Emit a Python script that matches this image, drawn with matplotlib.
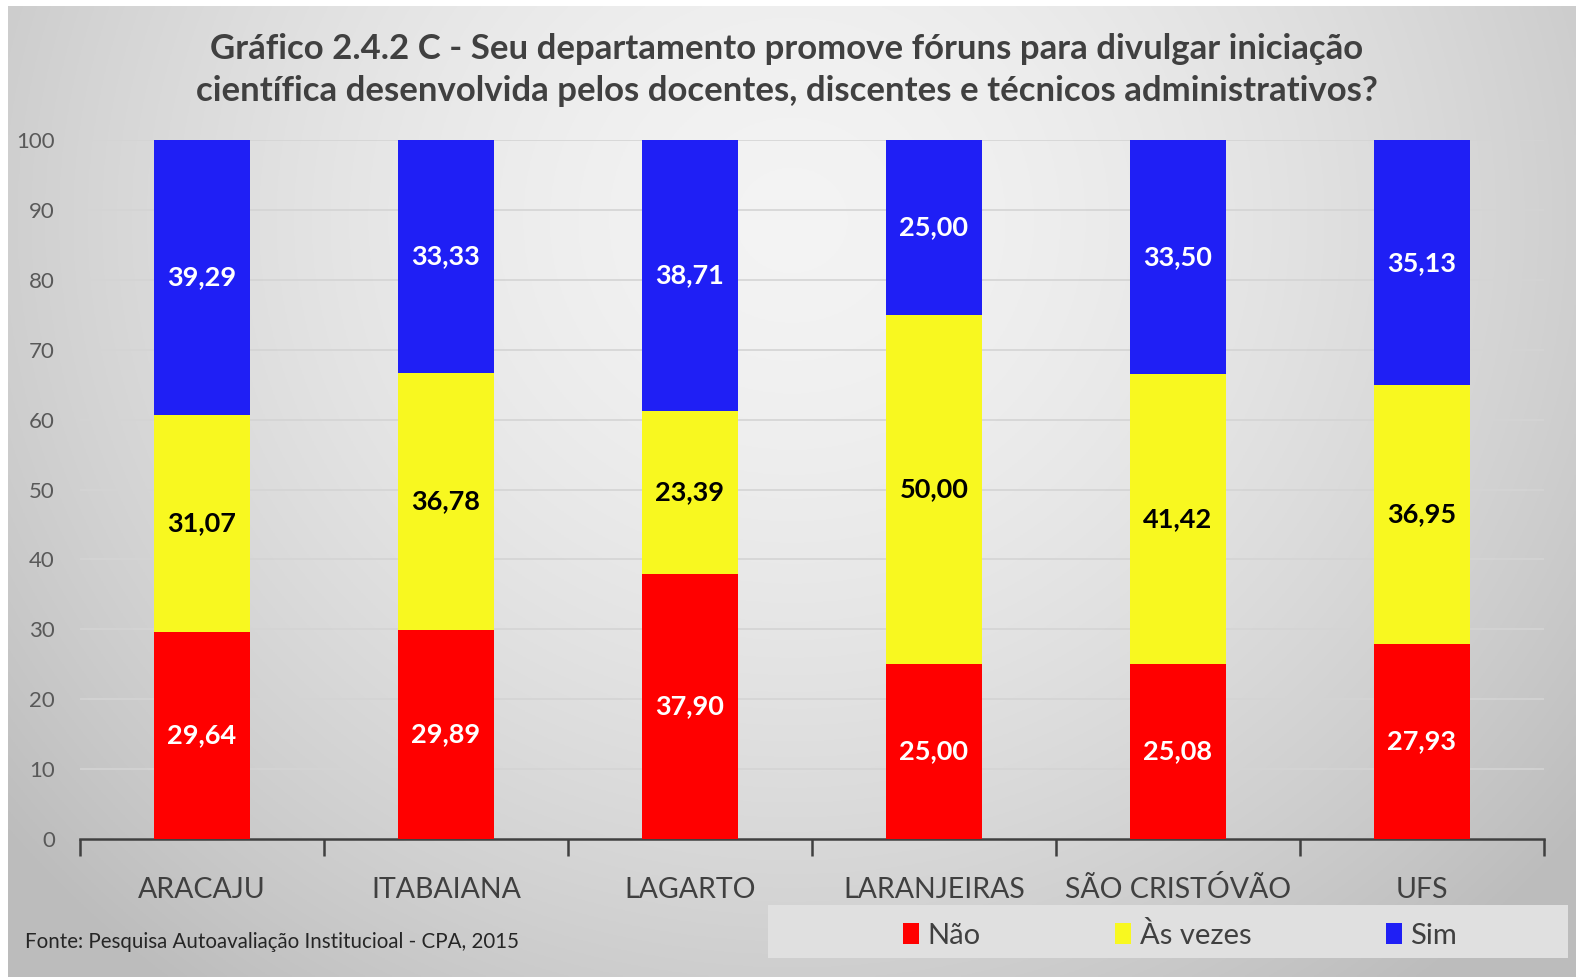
import numpy as np
import matplotlib.pyplot as plt
import matplotlib as mpl
from matplotlib.patches import Rectangle

mpl.rcParams.update({"font.family": ["Lato", "DejaVu Sans"]})

campi = ["ARACAJU", "ITABAIANA", "LAGARTO", "LARANJEIRAS", "SÃO CRISTÓVÃO", "UFS"]
nao = [29.64, 29.89, 37.90, 25.00, 25.08, 27.93]
as_vezes = [31.07, 36.78, 23.39, 50.00, 41.42, 36.95]
sim = [39.29, 33.33, 38.71, 25.00, 33.50, 35.13]

series = [("Não", nao, "#ff0000", "white"),
          ("Às vezes", as_vezes, "#f8f820", "black"),
          ("Sim", sim, "#1f1ff5", "white")]

W, H = 1576, 977
fig = plt.figure(figsize=(W / 100, H / 100), dpi=100, facecolor="white")

# radial grey background (Excel style)
bg = fig.add_axes([8 / W, 0, 1 - 8 / W, 1 - 6 / H], zorder=-10)
yy, xx = np.mgrid[0:1:400j, 0:1:640j]
r = np.sqrt(((xx - 0.5) / 0.62) ** 2 + ((yy - 0.22) / 0.95) ** 2)
shade = np.clip(0.955 - 0.20 * r ** 1.6, 0.74, 0.96)
bg.imshow(np.dstack([shade] * 3), aspect="auto", extent=(0, 1, 1, 0))
bg.set_axis_off()

ax = fig.add_axes([80 / W, 138 / H, 1464 / W, 699 / H])
ax.patch.set_alpha(0)

x = np.arange(len(campi))
bottom = np.zeros(len(campi))
for name, vals, color, tcol in series:
    vals = np.array(vals)
    ax.bar(x, vals, width=0.395, bottom=bottom, color=color, label=name,
           zorder=3)
    for xi, b, v in zip(x, bottom, vals):
        ax.text(xi, b + v / 2, f"{v:.2f}".replace(".", ","), ha="center",
                va="center", color=tcol, fontsize=19.5, fontweight="bold",
                zorder=4)
    bottom += vals

ax.set_xlim(-0.5, len(campi) - 0.5)
ax.set_ylim(0, 100)
ax.set_yticks(range(0, 101, 10))
ax.yaxis.grid(True, color="#d4d4d4", lw=1.2, zorder=0)
ax.tick_params(axis="y", length=0, pad=18, labelsize=16, labelcolor="#595959")
for s in ["top", "right", "left"]:
    ax.spines[s].set_visible(False)
ax.spines["bottom"].set_color("#404040")
ax.spines["bottom"].set_linewidth(1.8)

ax.set_xticks(x)
ax.set_xticklabels(campi, fontsize=20.5, color="#404040")
ax.tick_params(axis="x", length=0, pad=27)
ax.set_xticks(np.arange(-0.5, len(campi)), minor=True)
ax.tick_params(axis="x", which="minor", length=12, width=1.8, color="#404040")

fig.text(787 / W, 1 - 70 / H,
         "Gráfico 2.4.2 C - Seu departamento promove fóruns para divulgar iniciação\n"
         "científica desenvolvida pelos docentes, discentes e técnicos administrativos?",
         ha="center", va="center", fontsize=25, fontweight="bold",
         color="#404040", linespacing=1.35)

fig.text(25 / W, 1 - 942 / H, "Fonte: Pesquisa Autoavaliação Institucioal - CPA, 2015",
         ha="left", va="center", fontsize=14.8, color="#262626")

fig.patches.append(Rectangle((768 / W, 19 / H), 800 / W, 53 / H,
                             transform=fig.transFigure, facecolor="#e0e0e0",
                             edgecolor="none", zorder=1))
fig.legend(loc="center", bbox_to_anchor=(1180 / W, 1 - 935 / H), ncol=3,
           frameon=False, fontsize=21, handlelength=0.55, handleheight=0.75,
           handletextpad=0.3, columnspacing=4.6, labelcolor="#404040")

fig.savefig("out.png", dpi=100)
